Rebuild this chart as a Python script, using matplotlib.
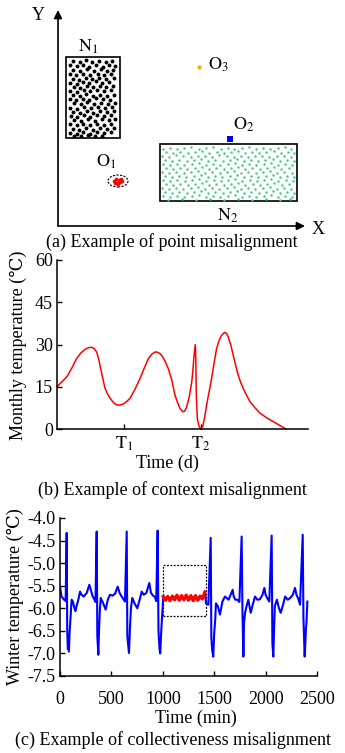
import matplotlib
matplotlib.use("Agg")
import matplotlib.pyplot as plt
from matplotlib.patches import Rectangle, Ellipse

plt.rcParams['font.family'] = ['Liberation Serif', 'DejaVu Serif']
plt.rcParams['mathtext.fontset'] = 'stix'
plt.rcParams['axes.unicode_minus'] = False
FS = 13

# ---------------- Panel (a) data ----------------
N1_pts = [(15,165),(22,164),(28,166),(34,164.5),(41,165.5),(48,164),(54,165.5),
          (12,161),(19,160),(25,161.5),(31,159.5),(38,161),(45,159.5),(51,161),(57,160),
          (15,156.5),(22,155.5),(29,157.5),(36,155.5),(43,157),(49,155.5),(55,156.5),
          (12,152),(18,151),(25,152.5),(32,151.5),(40,152.5),(46,151),(53,152.5),
          (15,147.5),(21,146.5),(28,148.5),(34,147),(41,148.5),(48,147),(56,148),
          (12,143.5),(19,142.5),(25,144.5),(31,143),(38,145),(44,143),(51,144.5),
          (16,139.5),(22,138.5),(29,140.5),(35,139),(42,140),(48,139),(55,140.5),
          (12,135.5),(19,134.5),(26,136),(32,135),(39,136),(46,135),(53,136),
          (15,131),(22,130),(28,132),(35,130.5),(42,131.5),(49,130.5),(56,131.5),
          (12,127),(18,126),(25,127.5),(31,126),(38,128),(45,127),(52,126.5),
          (16,123),(23,122),(29,124),(36,122.5),(43,123.5),(50,122.5),(57,123.5),
          (12,118.5),(19,117.5),(26,119.5),(33,118),(40,119),(47,118),(54,119),
          (15,114.5),(22,113.5),(29,115),(35,113.5),(42,115),(49,114),(56,115),
          (13,110.5),(19,109.5),(26,111),(32,109.5),(39,111),(46,110),(53,111),
          (16,106.5),(23,105.5),(30,107),(37,105.5),(44,107),(51,106),(57,107),
          (12,102),(19,101),(25,102.5),(32,101),(39,102.5),(46,101.5),(53,102.5),
          (15,97.5),(21,96.5),(28,98),(35,96.5),(42,98),(49,97),(56,98),
          (12,93.5),(19,92.5),(25,94),(32,92.5),(39,94),(46,93),(53,94),
          (16,90.5),(23,90),(30,91),(37,90),(44,90.5)]

N2_pts = [(105,77.5),(112,78.5),(119,77),(126,78),(133,79),(141,77.5),(148,78),(155,79),(163,77),(170,78.5),(176,77.5),(184,78),(191,79),(198,77),(205,78.5),(212,77.5),(220,78),(227,79),(233,77.5),
          (108,74),(115,73),(122,74.5),(130,73.5),(137,74),(144,75),(151,73),(159,74.5),(166,73.5),(173,74),(180,75),(187,73),(194,74.5),(201,73.5),(208,74),(216,75),(223,73),(230,74.5),(236,73.5),
          (104,70),(111,69.5),(118,71),(125,70),(133,69),(140,70.5),(147,70),(154,69),(161,71),(169,70),(176,69.5),(183,70.5),(190,69),(197,70.5),(204,70),(211,69),(219,70.5),(226,70),(233,69),
          (107,66),(114,65),(121,66.5),(129,65.5),(136,66),(143,67),(150,65),(157,66.5),(165,65.5),(172,66),(179,67),(186,65),(193,66.5),(200,65.5),(207,66),(215,67),(222,65),(229,66.5),(236,65.5),
          (105,62),(112,61),(119,62.5),(126,61.5),(134,62),(141,63),(148,61),(155,62.5),(162,61.5),(170,62),(177,63),(184,61),(191,62.5),(198,61.5),(206,62),(213,63),(220,61),(227,62.5),(234,61.5),
          (108,58),(115,57),(122,58.5),(129,57.5),(137,58),(144,59),(151,57),(158,58.5),(166,57.5),(173,58),(180,59),(187,57),(194,58.5),(202,57.5),(209,58),(216,59),(223,57),(231,58.5),
          (104,54),(111,53),(118,54.5),(126,53.5),(133,54),(140,55),(147,53),(154,54.5),(162,53.5),(169,54),(176,55),(183,53),(190,54.5),(198,53.5),(205,54),(212,55),(219,53),(226,54.5),(234,53.5),
          (107,50),(114,49),(121,50.5),(128,49.5),(136,50),(143,51),(150,49),(157,50.5),(164,49.5),(172,50),(179,51),(186,49),(193,50.5),(200,49.5),(208,50),(215,51),(222,49),(229,50.5),(236,49.5),
          (105,46),(112,45),(119,46.5),(127,45.5),(134,46),(141,47),(148,45),(156,46.5),(163,45.5),(170,46),(177,47),(184,45),(192,46.5),(199,45.5),(206,46),(213,47),(220,45),(228,46.5),(235,45.5),
          (108,42),(115,41),(122,42.5),(130,41.5),(137,42),(144,43),(151,41),(158,42.5),(166,41.5),(173,42),(180,43),(187,41),(195,42.5),(202,41.5),(209,42),(216,43),(224,41),(231,42.5),
          (104,38),(111,37),(118,38.5),(125,37.5),(133,38),(140,39),(147,37),(154,38.5),(161,37.5),(169,38),(176,39),(183,37),(190,38.5),(197,37.5),(205,38),(212,39),(219,37),(226,38.5),(233,37.5),
          (107,34),(114,33),(121,34.5),(129,33.5),(136,34),(143,35),(150,33),(157,34.5),(165,33.5),(172,34),(179,35),(186,33),(193,34.5),(201,33.5),(208,34),(215,35),(222,33),(229,34.5),(236,33.5),
          (105,30),(112,29),(119,30.5),(126,29.5),(134,30),(141,31),(148,29),(155,30.5),(162,29.5),(170,30),(177,31),(184,29),(191,30.5),(198,29.5),(206,30),(213,31),(220,29),(227,30.5),(234,29.5),
          (110,26.5),(124,27),(138,26.5),(152,27),(166,26.5),(180,27),(194,26.5),(208,27),(222,26.5),(232,27)]

O1_pts = [(56,45),(58,47),(59,43),(61,46),(62,44),(63,47),(60,42),(64,45),(57,43)]
O2_pt = (172, 87)
O3_pt = (141, 159)
N1_box = (8, 88, 54, 81)      # x, y, w, h
N2_box = (102, 25, 137, 57)
O1_ell = (60, 45, 20, 12)

# ---------------- Panel (b) data ----------------
b_time = [0,2,3.9,6,7.8,9.5,11.2,12.6,13.8,14.8,15.8,16.5,17.1,18.1,19.1,20.1,21.1,22.1,23.1,24.1,25.1,
          26.5,27.8,29.1,31.1,33.1,34.8,36.4,37.9,39.3,40.5,41.7,43,44.3,45.7,47,48,49,50.1,50.9,51.7,
          52.7,53.7,54.2,54.6,55.1,55.3,55.4,55.5,55.7,55.9,56.3,56.7,57.3,58.0,58.8,59.6,60.6,61.6,62.6,
          63.6,64.6,65.6,66.8,67.5,68.2,69.2,70.2,71.2,72.2,73.2,74.2,75.5,76.9,78.9,80.9,83.5,86.2,88.7,91.2]
b_temp = [15,16.8,18.5,21.8,25,27,28.3,28.9,29,28.6,27.3,25.2,22.7,18.5,14.5,12.5,11,9.8,8.9,8.5,8.5,
          8.9,9.8,10.9,14.2,18,21.7,25,26.7,27.4,27.1,26.2,24.2,21.5,17.5,12,9.5,7.3,6.1,6.4,7.9,
          11.5,16.8,21.5,26.2,30,25,18,12,7.5,3.8,2,0.8,0,0.8,4,8.5,13.2,18,23.5,
          28.6,31.5,33.3,34.3,34,32.7,30,26.2,22.5,19.1,16.5,14.4,12,9.7,7.5,5.6,4,2.6,1.3,0]
b_yticks = [0, 15, 30, 45, 60]
b_xticks = [26.7, 57.3]
b_xticklabels = [r'$\mathrm{T_1}$', r'$\mathrm{T_2}$']

# ---------------- Panel (c) data ----------------
c_t1 = [0,15,40,55,65,70,76,82,87,93,100,113,125,140,150,165,178,195,210,230,260,285,300,315,335,
        345,357,363,373,380,388,396,420,444,465,486,510,535,561,580,600,632,
        649,655,671,680,690,703,725,752,775,795,815,840,869,885,905,924,
        936,950,958,968,975,985,995,1005]
c_v1 = [-5.52,-5.74,-5.81,-5.84,-4.33,-6.45,-6.90,-6.85,-6.96,-6.55,-6.30,-5.81,-5.85,-5.99,-6.06,-5.92,-5.81,-5.63,-5.70,-5.74,-5.66,-5.48,-5.59,-5.72,-5.81,
        -5.86,-4.30,-6.62,-7.03,-6.47,-6.03,-5.77,-5.89,-6.03,-5.81,-5.70,-5.72,-5.68,-5.52,-5.66,-5.74,-5.85,
        -4.30,-6.62,-6.99,-6.47,-6.00,-5.77,-5.89,-6.00,-5.81,-5.63,-5.70,-5.66,-5.44,-5.66,-5.72,-5.75,
        -5.84,-4.28,-6.50,-6.90,-7.00,-6.50,-6.10,-5.75]
c_t2 = [1410,1420,1443,1466,1472,1480,1491,1500,1510,1517,1535,1556,1580,1605,1640,1680,1690,1705,1725,1745,
        1767,1775,1784,1790,1800,1815,1832,1855,1875,1897,1920,1945,1970,1988,2000,2015,2036,
        2059,2066,2075,2082,2090,2110,2130,2147,2170,2190,2215,2240,2265,2286,2300,2315,2335,
        2361,2368,2380,2386,2392,2398,2406]
c_v2 = [-5.64,-5.89,-5.92,-4.44,-6.62,-6.92,-7.07,-6.55,-6.25,-5.89,-5.95,-6.14,-5.85,-5.74,-5.81,-5.59,-5.74,-5.81,-5.81,-5.86,
        -4.41,-6.10,-7.07,-6.35,-6.10,-5.95,-5.81,-6.10,-5.92,-5.74,-5.81,-5.80,-5.70,-5.55,-5.70,-5.77,-5.85,
        -4.39,-6.77,-7.07,-6.50,-5.95,-5.81,-6.00,-6.10,-5.92,-5.74,-5.81,-5.77,-5.70,-5.55,-5.70,-5.77,-5.92,
        -4.37,-6.20,-7.07,-6.80,-6.48,-6.30,-5.85]
c_tr = [1005,1025,1048,1070,1093,1115,1138,1160,1183,1205,1228,1250,1273,1295,1318,1340,1363,1385,1410]
c_vr = [-5.74,-5.82,-5.74,-5.83,-5.73,-5.81,-5.71,-5.82,-5.72,-5.81,-5.71,-5.82,-5.72,-5.83,-5.72,-5.82,-5.73,-5.79,-5.64]
c_box = (1000, -6.18, 420, 1.13)
c_xticks = [0, 500, 1000, 1500, 2000, 2500]
c_yticks = [-7.5, -7.0, -6.5, -6.0, -5.5, -5.0, -4.5, -4.0]

W, H = 345, 753
fig = plt.figure(figsize=(W/100, H/100), dpi=100)

def rect(l, t, r, b):
    return [l/W, 1-b/H, (r-l)/W, (b-t)/H]

# ---- (a)
ax = fig.add_axes(rect(58, 10, 305, 226))
ax.set_xlim(0, 247); ax.set_ylim(0, 216)
ax.axis('off')
ap = dict(arrowstyle='-|>', lw=1.2, color='black', mutation_scale=12, shrinkA=0, shrinkB=0)
ax.annotate('', xy=(0, 216), xytext=(0, 0), arrowprops=ap, annotation_clip=False)
ax.annotate('', xy=(247, 0), xytext=(0, 0), arrowprops=ap, annotation_clip=False)
ax.add_patch(Rectangle(N1_box[:2], N1_box[2], N1_box[3], fill=False, ec='black', lw=1.2))
ax.add_patch(Rectangle(N2_box[:2], N2_box[2], N2_box[3], fill=False, ec='black', lw=1.2))
ax.scatter([p[0] for p in N1_pts], [p[1] for p in N1_pts], s=8, c='black', lw=0)
ax.scatter([p[0] for p in N2_pts], [p[1] for p in N2_pts], s=3, c='#3dcc7a', lw=0)
ax.add_patch(Ellipse(O1_ell[:2], O1_ell[2], O1_ell[3], fill=False, ec='black', lw=0.8, ls=(0, (2, 1.2))))
ax.scatter([p[0] for p in O1_pts], [p[1] for p in O1_pts], s=7, c='red', lw=0)
ax.scatter([O2_pt[0]], [O2_pt[1]], s=22, c='#0000ff', marker='s', lw=0)
ax.scatter([O3_pt[0]], [O3_pt[1]], s=9, c='#f5a800', lw=0)
kw = dict(fontsize=FS, ha='center', va='center')
ax.text(-20, 210, 'Y', **kw)
ax.text(260, -3, 'X', **kw)
ax.text(30, 179, r'$\mathrm{N_1}$', **kw)
ax.text(170, 10, r'$\mathrm{N_2}$', **kw)
ax.text(48.5, 64.5, r'$\mathrm{O_1}$', **kw)
ax.text(186, 101, r'$\mathrm{O_2}$', **kw)
ax.text(160, 161, r'$\mathrm{O_3}$', **kw)
fig.text(172/W, 1-242/H, '(a) Example of point misalignment', fontsize=FS, ha='center', va='center')

# ---- (b)
axb = fig.add_axes(rect(57, 260, 308, 429))
axb.plot(b_time, b_temp, color='#ff0000', lw=1.1, clip_on=False)
axb.set_xlim(0, 100); axb.set_ylim(0, 60)
axb.spines['top'].set_visible(False); axb.spines['right'].set_visible(False)
for s in ('left', 'bottom'):
    axb.spines[s].set_linewidth(1.1)
axb.set_yticks(b_yticks)
axb.set_xticks(b_xticks, b_xticklabels)
axb.tick_params(direction='in', length=3.5, width=1, labelsize=FS)
axb.tick_params(axis='y', pad=3)
axb.tick_params(axis='x', pad=4)
fig.text(18/W, 1-345/H, 'Monthly temperature (℃)', fontsize=FS, rotation=90, ha='center', va='center')
fig.text(167.5/W, 1-463/H, 'Time (d)', fontsize=FS, ha='center', va='center')
fig.text(172/W, 1-490/H, '(b) Example of context misalignment', fontsize=FS, ha='center', va='center')

# ---- (c)
axc = fig.add_axes(rect(60, 518, 317, 676))
axc.plot(c_t1, c_v1, color='#0000ff', lw=1.5)
axc.plot(c_t2, c_v2, color='#0000ff', lw=1.5)
axc.plot(c_tr, c_vr, color='#ff0000', lw=2.4)
axc.add_patch(Rectangle(c_box[:2], c_box[2], c_box[3], fill=False, ec='black', lw=0.9, ls=(0, (1.5, 1.2))))
axc.set_xlim(0, 2500); axc.set_ylim(-7.5, -4.0)
axc.spines['top'].set_visible(False); axc.spines['right'].set_visible(False)
for s in ('left', 'bottom'):
    axc.spines[s].set_linewidth(1.1)
axc.set_xticks(c_xticks)
axc.set_yticks(c_yticks, [f'{v:.1f}' for v in c_yticks])
axc.tick_params(direction='in', length=3.5, width=1, labelsize=FS)
axc.tick_params(axis='y', pad=3)
axc.tick_params(axis='x', pad=11)
fig.text(15.5/W, 1-597/H, 'Winter temperature (℃)', fontsize=FS, rotation=90, ha='center', va='center')
fig.text(196/W, 1-718/H, 'Time (min)', fontsize=FS, ha='center', va='center')
fig.text(173/W, 1-740/H, '(c) Example of collectiveness misalignment', fontsize=FS, ha='center', va='center')

fig.savefig('out.png', dpi=100)
